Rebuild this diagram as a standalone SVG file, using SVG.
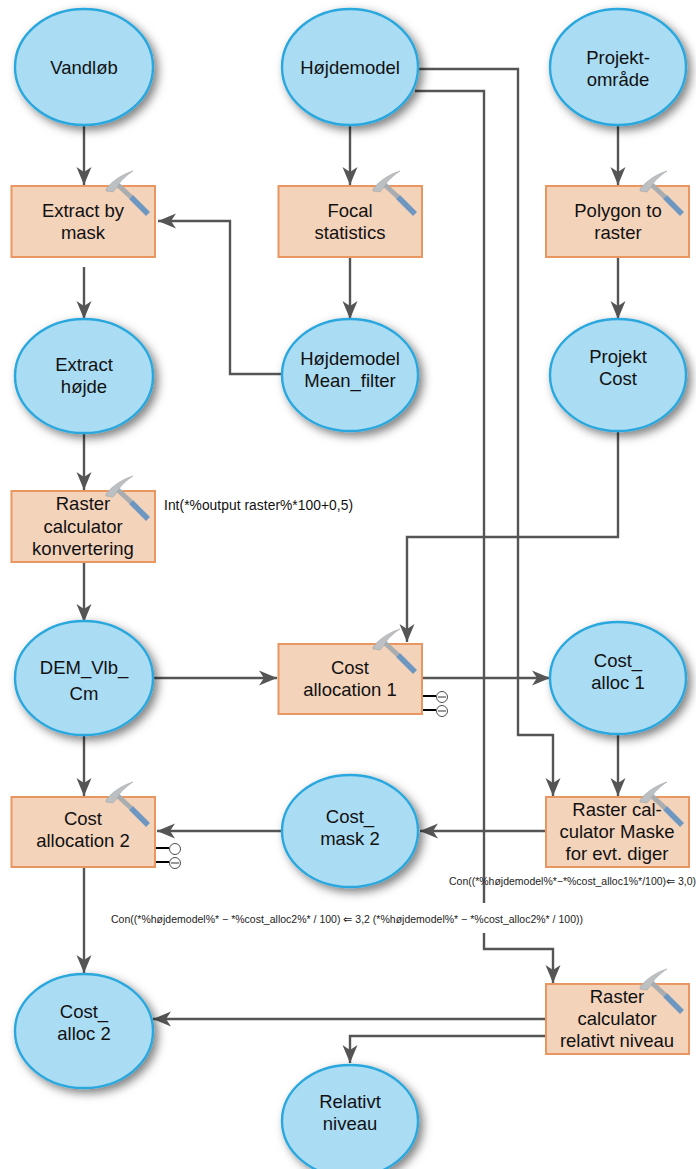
<svg xmlns="http://www.w3.org/2000/svg" xmlns:xlink="http://www.w3.org/1999/xlink" width="696" height="1169" viewBox="0 0 696 1169">
<style>
text{font-family:"Liberation Sans",Arial,sans-serif;fill:#111}
.l{font-size:18.500px;text-anchor:middle}
.s{font-size:13.800px}
.t{font-size:10.500px;fill:#222}
.e{fill:#aadcf3;stroke:#2aa7dd;stroke-width:2.4;filter:url(#sh)}
.b{fill:#f4d3bb;stroke:#ea9660;stroke-width:2}
.c{fill:none;stroke:#555;stroke-width:2.4;marker-end:url(#a)}
.n{fill:none;stroke:#555;stroke-width:2.4}
.p{stroke:#000;stroke-width:2}
.o{fill:#fff;stroke:#222;stroke-width:.8}
</style>
<defs>
<filter id="sh" x="-20%" y="-20%" width="150%" height="150%"><feDropShadow dx="4" dy="4" stdDeviation="5" flood-color="#000" flood-opacity=".5"/></filter>
<marker id="a" markerUnits="userSpaceOnUse" markerWidth="19" markerHeight="17" refX="18" refY="8.500" orient="auto"><path d="M0 1L18 8.500L0 16L5 8.500Z" fill="#555"/></marker>
<g id="h">
<path d="M-9 -3L4 9" stroke="#a9adb0" stroke-width="5" fill="none"/>
<path d="M4 9L21 26" stroke="#6d96c0" stroke-width="5.500" fill="none"/>
<path d="M-21 1C-14 -8 -4 -14 6 -17C0 -13 -7 -7 -9 -2L-14 4L-21 3Z" fill="#bcc0c3" stroke="#9a9ea1" stroke-width=".5"/>
</g>
</defs>

<g id="connectors">
<path class="c" d="M84 125V185"/>
<path class="c" d="M350 125V185"/>
<path class="c" d="M618 125V185"/>
<path class="c" d="M84 267V319"/>
<path class="c" d="M350 258V319"/>
<path class="c" d="M618 258V319"/>
<path class="c" d="M282 374H230V221H158"/>
<path class="c" d="M84 433V490"/>
<path class="c" d="M84 563V622"/>
<path class="c" d="M618 431V537H407V642"/>
<path class="c" d="M152 678H277"/>
<path class="c" d="M423 678H550"/>
<path class="c" d="M84 735V796"/>
<path class="c" d="M618 734V796"/>
<path class="c" d="M417 69H518V735H553V796"/>
<path class="n" d="M415 91H484V903"/>
<path class="c" d="M484 933V949H553V983"/>
<path class="c" d="M545 831H420"/>
<path class="c" d="M281 831H157"/>
<path class="c" d="M84 868V973"/>
<path class="c" d="M545 1019H153"/>
<path class="c" d="M545 1036H350V1063"/>
<path class="p" d="M423 696H436M423 710H436"/>
<path class="p" d="M156 848H169M156 862H169"/>
</g>

<g id="vandlob"><ellipse class="e" cx="84" cy="67" rx="69" ry="58"/><text class="l" x="84" y="74">Vandløb</text></g>
<g id="hojdemodel"><ellipse class="e" cx="350" cy="67" rx="68" ry="58"/><text class="l" x="350" y="74">Højdemodel</text></g>
<g id="projektomrade"><ellipse class="e" cx="618" cy="67" rx="68" ry="58"/><text class="l" x="618" y="64">Projekt-</text><text class="l" x="618" y="86">område</text></g>

<g id="extract-by-mask"><rect class="b" x="11.500" y="186" width="143.500" height="71"/><text class="l" x="83" y="217">Extract by</text><text class="l" x="83" y="239">mask</text><use xlink:href="#h" x="127" y="188"/></g>
<g id="focal-statistics"><rect class="b" x="278.500" y="186" width="143.500" height="71"/><text class="l" x="350" y="217">Focal</text><text class="l" x="350" y="239">statistics</text><use xlink:href="#h" x="394" y="188"/></g>
<g id="polygon-to-raster"><rect class="b" x="546" y="186" width="143" height="71"/><text class="l" x="618" y="217">Polygon to</text><text class="l" x="618" y="239">raster</text><use xlink:href="#h" x="661" y="188"/></g>

<g id="extract-hojde"><ellipse class="e" cx="84" cy="376" rx="69" ry="57"/><text class="l" x="84" y="371">Extract</text><text class="l" x="84" y="393">højde</text></g>
<g id="hojdemodel-mean"><ellipse class="e" cx="350" cy="375" rx="68" ry="56"/><text class="l" x="350" y="365">Højdemodel</text><text class="l" x="350" y="387">Mean_filter</text></g>
<g id="projekt-cost"><ellipse class="e" cx="618" cy="375" rx="68" ry="56"/><text class="l" x="618" y="363">Projekt</text><text class="l" x="618" y="385">Cost</text></g>

<g id="raster-konvertering"><rect class="b" x="11.500" y="491" width="143.500" height="71"/><text class="l" x="83" y="510">Raster</text><text class="l" x="83" y="533">calculator</text><text class="l" x="83" y="555">konvertering</text><use xlink:href="#h" x="127" y="493"/></g>
<text class="s" x="164" y="510" textLength="189">Int(*%output raster%*100+0,5)</text>

<g id="dem"><ellipse class="e" cx="84" cy="678" rx="69" ry="57"/><text class="l" x="84" y="674">DEM_Vlb_</text><text class="l" x="84" y="700">Cm</text></g>
<g id="cost-allocation-1"><rect class="b" x="278.500" y="644" width="143.500" height="70"/><text class="l" x="350" y="674">Cost</text><text class="l" x="350" y="696">allocation 1</text><use xlink:href="#h" x="394" y="646"/><circle class="o" cx="442" cy="697" r="5.500"/><path class="p" style="stroke-width:.8" d="M438 697H446"/><circle class="o" cx="442" cy="711" r="5.500"/><path class="p" style="stroke-width:.8" d="M438 711H446"/></g>
<g id="cost-alloc-1"><ellipse class="e" cx="618" cy="678" rx="68" ry="56"/><text class="l" x="618" y="667">Cost_</text><text class="l" x="618" y="689">alloc 1</text></g>

<g id="cost-allocation-2"><rect class="b" x="11.500" y="797" width="143.500" height="70"/><text class="l" x="83" y="825">Cost</text><text class="l" x="83" y="847">allocation 2</text><use xlink:href="#h" x="127" y="799"/><circle class="o" cx="175" cy="849" r="5.500"/><circle class="o" cx="175" cy="863" r="5.500"/><path class="p" style="stroke-width:.8" d="M171 863H179"/></g>
<g id="cost-mask-2"><ellipse class="e" cx="350" cy="831" rx="68" ry="56"/><text class="l" x="350" y="823">Cost_</text><text class="l" x="350" y="845">mask 2</text></g>
<g id="raster-maske"><rect class="b" x="546" y="797" width="143" height="70"/><text class="l" x="617" y="816">Raster cal-</text><text class="l" x="617" y="838">culator Maske</text><text class="l" x="617" y="860">for evt. diger</text><use xlink:href="#h" x="661" y="799"/></g>
<text class="t" x="449" y="885" textLength="247">Con((*%højdemodel%*−*%cost_alloc1%*/100)⇐ 3,0)</text>
<text class="t" x="111" y="923" textLength="472">Con((*%højdemodel%* − *%cost_alloc2%* / 100) ⇐ 3,2 (*%højdemodel%* − *%cost_alloc2%* / 100))</text>

<g id="cost-alloc-2"><ellipse class="e" cx="84" cy="1031" rx="69" ry="57"/><text class="l" x="84" y="1018">Cost_</text><text class="l" x="84" y="1040">alloc 2</text></g>
<g id="raster-relativt"><rect class="b" x="546" y="984" width="143" height="70"/><text class="l" x="617" y="1003">Raster</text><text class="l" x="617" y="1025">calculator</text><text class="l" x="617" y="1047">relativt niveau</text><use xlink:href="#h" x="661" y="986"/></g>
<g id="relativt-niveau"><ellipse class="e" cx="350" cy="1121" rx="68" ry="56"/><text class="l" x="350" y="1108">Relativt</text><text class="l" x="350" y="1130">niveau</text></g>
</svg>
